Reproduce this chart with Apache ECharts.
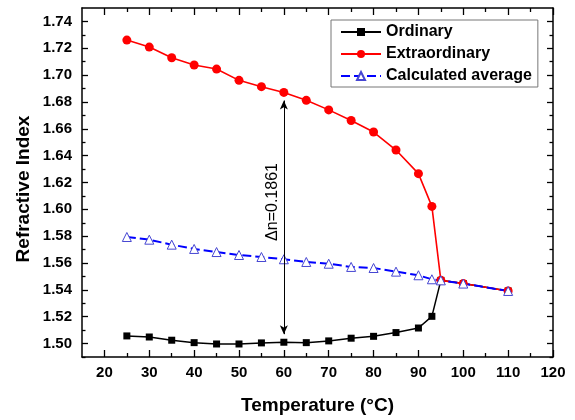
<!DOCTYPE html>
<html>
<head>
<meta charset="utf-8">
<script src="https://cdn.jsdelivr.net/npm/echarts@6/dist/echarts.min.js"></script>
<style>html,body{margin:0;padding:0;background:#fff}#c{width:575px;height:420px}</style>
</head>
<body>
<div id="c"></div>
<script>
var temperature = [25, 30, 35, 40, 45, 50, 55, 60, 65, 70, 75, 80, 85, 90, 93, 95, 100, 110];
var ordinary = [1.5057, 1.5049, 1.5025, 1.5007, 1.4997, 1.4997, 1.5005, 1.5010, 1.5007, 1.5020, 1.5040, 1.5054, 1.5082, 1.5116, 1.5203, 1.5471, 1.5447, 1.5392];
var extraordinary = [1.7261, 1.7209, 1.7129, 1.7075, 1.7045, 1.6961, 1.6914, 1.6871, 1.6812, 1.6741, 1.6662, 1.6576, 1.6442, 1.6266, 1.6022, 1.5471, 1.5447, 1.5392];
var average = [1.5794, 1.5774, 1.5737, 1.5705, 1.5682, 1.5660, 1.5645, 1.5628, 1.5608, 1.5595, 1.5571, 1.5563, 1.5536, 1.5509, 1.5479, 1.5471, 1.5447, 1.5392];
var seriesNames = ['Ordinary', 'Extraordinary', 'Calculated average'];
var xTickLabels = [20, 30, 40, 50, 60, 70, 80, 90, 100, 110, 120];
var xMinorTicks = [25, 35, 45, 55, 65, 75, 85, 95, 105, 115];
var yTickLabels = [1.50, 1.52, 1.54, 1.56, 1.58, 1.60, 1.62, 1.64, 1.66, 1.68, 1.70, 1.72, 1.74];
var yMinorTicks = [1.49, 1.51, 1.53, 1.55, 1.57, 1.59, 1.61, 1.63, 1.65, 1.67, 1.69, 1.71, 1.73];
var arrowIndex = 7;

var FONT = 'Arial, "Liberation Sans", sans-serif';
function pairs(ys) { return temperature.map(function (t, i) { return [t, ys[i]]; }); }

function xAx(pos, ticks, major, labels) {
  return {
    type: 'value', min: 15, max: 120, position: pos,
    axisLine: { show: major, onZero: false, lineStyle: { color: '#000', width: 1.5 } },
    axisTick: { show: true, inside: true, customValues: ticks, length: major ? 7 : 4, lineStyle: { color: '#000', width: 1.3 } },
    axisLabel: labels ? { show: true, customValues: ticks, margin: 8, color: '#000', fontSize: 15, fontWeight: 'bold', fontFamily: FONT } : { show: false },
    splitLine: { show: false }
  };
}
function yAx(pos, ticks, major, labels) {
  return {
    type: 'value', min: 1.49, max: 1.75, position: pos,
    axisLine: { show: major, onZero: false, lineStyle: { color: '#000', width: 1.5 } },
    axisTick: { show: true, inside: true, customValues: ticks, length: major ? 6 : 3.5, lineStyle: { color: '#000', width: 1.3 } },
    axisLabel: labels ? { show: true, customValues: ticks, margin: 10, color: '#000', fontSize: 15, fontWeight: 'bold', fontFamily: FONT, formatter: function (v) { return v.toFixed(2); } } : { show: false },
    splitLine: { show: false }
  };
}

var xAxes = [xAx('bottom', xTickLabels, true, true), xAx('bottom', xMinorTicks, false, false), xAx('top', xTickLabels, true, false), xAx('top', xMinorTicks, false, false)];
xAxes[0].name = 'Temperature (°C)';
xAxes[0].nameLocation = 'middle';
xAxes[0].nameGap = 39;
xAxes[0].nameTextStyle = { color: '#000', fontSize: 19, fontWeight: 'bold', fontFamily: FONT };
var yAxes = [yAx('left', yTickLabels, true, true), yAx('left', yMinorTicks, false, false), yAx('right', yTickLabels, true, false), yAx('right', yMinorTicks, false, false)];

var gap = 0.006;
var chart = echarts.init(document.getElementById('c'), null, { renderer: 'canvas' });
chart.setOption({
  animation: false,
  backgroundColor: '#fff',
  grid: { left: 82, right: 22, top: 8, bottom: 63, containLabel: false },
  xAxis: xAxes,
  yAxis: yAxes,
  legend: {
    orient: 'vertical', left: 331, top: 20,
    data: seriesNames,
    itemWidth: 40, itemHeight: 10, itemGap: 4,
    padding: [3, 6, 2, 9],
    borderColor: '#777', borderWidth: 1, borderRadius: 0,
    backgroundColor: '#fff',
    textStyle: { color: '#000', fontSize: 16, fontWeight: 'bold', fontFamily: FONT, lineHeight: 18 }
  },
  series: [
    {
      name: seriesNames[0], type: 'line', data: pairs(ordinary),
      symbol: 'rect', symbolSize: 7,
      lineStyle: { color: '#000', width: 1.5 },
      itemStyle: { color: '#000' },
      markLine: {
        silent: true, symbol: ['arrow', 'arrow'], symbolSize: [6, 9],
        lineStyle: { color: '#000', width: 1, type: 'solid' },
        label: { show: false },
        data: [[{ coord: [temperature[arrowIndex], ordinary[arrowIndex] + gap] }, { coord: [temperature[arrowIndex], extraordinary[arrowIndex] - gap] }]]
      }
    },
    {
      name: seriesNames[1], type: 'line', data: pairs(extraordinary),
      symbol: 'circle', symbolSize: 9,
      lineStyle: { color: '#ff0000', width: 1.6 },
      itemStyle: { color: '#ff0000' }
    },
    {
      name: seriesNames[2], type: 'line', data: pairs(average),
      symbol: 'triangle', symbolSize: 9,
      lineStyle: { color: '#0000ff', width: 2, type: [9, 4] },
      itemStyle: { color: '#ffffff', borderColor: '#4646d2', borderWidth: 1 }
    }
  ],
  graphic: [
    {
      type: 'text', x: 24, y: 189, rotation: Math.PI / 2,
      style: {
        text: 'Refractive Index',
        fill: '#000', font: 'bold 19px Arial, "Liberation Sans", sans-serif',
        textAlign: 'center', textVerticalAlign: 'middle'
      }
    },
    {
      type: 'text', x: 273, y: 202, rotation: Math.PI / 2,
      style: {
        text: 'Δn=' + (extraordinary[arrowIndex] - ordinary[arrowIndex]).toFixed(4),
        fill: '#000', font: '16px Arial, "Liberation Sans", sans-serif',
        textAlign: 'center', textVerticalAlign: 'middle'
      }
    }
  ]
});
</script>
</body>
</html>
